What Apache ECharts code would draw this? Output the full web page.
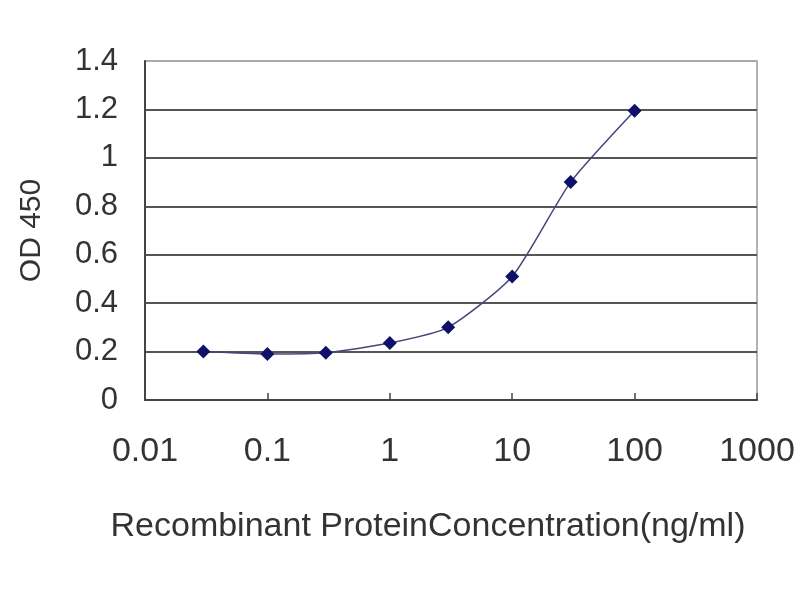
<!DOCTYPE html>
<html>
<head>
<meta charset="utf-8">
<script src="https://cdn.jsdelivr.net/npm/echarts@6/dist/echarts.min.js"></script>
<style>
  html, body { margin: 0; padding: 0; background: #fff; }
  #chart { width: 800px; height: 600px; }
</style>
</head>
<body>
<div id="chart"></div>
<script>
var concentration = [0.03, 0.1, 0.3, 1, 3, 10, 30, 100];
var od450 = [0.20, 0.19, 0.195, 0.235, 0.30, 0.51, 0.90, 1.195];
var yTicks = { min: 0, max: 1.4, step: 0.2 };
var xRange = { min: 0.01, max: 1000 };

var chart = echarts.init(document.getElementById("chart"));

var points = concentration.map(function (c, i) {
  return [c, od450[i]];
});

var font = "Liberation Sans, Arial, sans-serif";

var option = {
  animation: false,
  backgroundColor: "#fff",
  grid: {
    left: 145,
    right: 43,
    top: 61,
    bottom: 200,
    show: true,
    borderColor: "#999",
    borderWidth: 1.5
  },
  xAxis: {
    type: "log",
    logBase: 10,
    min: xRange.min,
    max: xRange.max,
    name: "Recombinant ProteinConcentration(ng/ml)",
    nameLocation: "middle",
    nameGap: 110,
    nameTextStyle: {
      fontFamily: font,
      fontSize: 34,
      color: "#333",
      padding: [0, 46, 0, 0]
    },
    axisLine: { lineStyle: { color: "#444", width: 2 } },
    axisTick: { inside: true, length: 7, lineStyle: { color: "#444", width: 1.5 } },
    axisLabel: {
      margin: 35,
      fontFamily: font,
      fontSize: 34,
      color: "#333",
      formatter: function (v) { return String(v); }
    },
    splitLine: { show: false }
  },
  yAxis: {
    type: "value",
    min: yTicks.min,
    max: yTicks.max,
    interval: yTicks.step,
    name: "OD 450",
    nameLocation: "middle",
    nameGap: 98,
    nameTextStyle: { fontFamily: font, fontSize: 30, color: "#333" },
    axisLine: { show: true, lineStyle: { color: "#444", width: 2 } },
    axisTick: { show: false },
    axisLabel: {
      margin: 27,
      fontFamily: font,
      fontSize: 31,
      color: "#333",
      formatter: function (v) { return String(Math.round(v * 10) / 10); }
    },
    splitLine: {
      lineStyle: {
        color: ["#444", "#555", "#555", "#555", "#555", "#555", "#555", "#aaa"],
        width: 2
      }
    }
  },
  series: [
    {
      type: "line",
      data: points,
      smooth: 0.2,
      symbol: "diamond",
      symbolSize: 14,
      itemStyle: { color: "#10106a" },
      lineStyle: { color: "#45457a", width: 1.5 }
    }
  ]
};

chart.setOption(option);
</script>
</body>
</html>
